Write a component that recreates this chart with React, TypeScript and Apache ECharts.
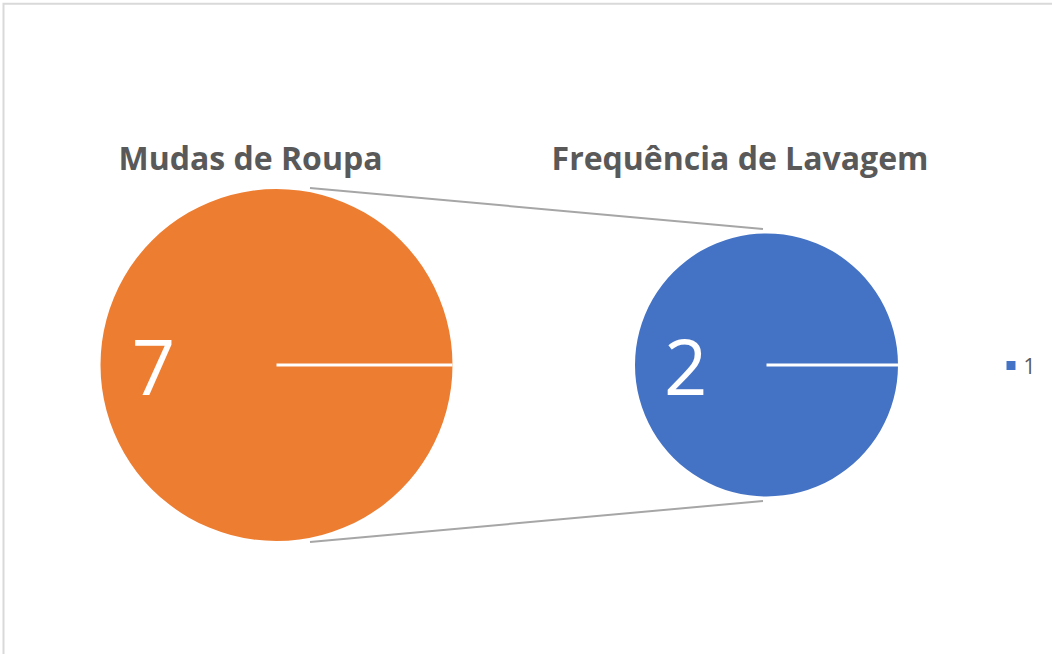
import React, { useEffect, useRef } from "react";
import * as echarts from "echarts";

// ---- data ----
const pieTitles = ["Mudas de Roupa", "Frequência de Lavagem"];
const leftPieValues = [7];
const rightPieValues = [2];
const categoryNames = ["1"];
const colors = ["#ED7D31", "#4472C4"];

// ---- layout constants ----
const W = 1052;
const H = 654;
const LEFT = { cx: 276.5, cy: 365, r: 176 };
const RIGHT = { cx: 766.5, cy: 365, r: 131.5 };
const FONT = "'Open Sans', 'Noto Sans', sans-serif";

export default function App() {
  const ref = useRef<HTMLDivElement>(null);

  useEffect(() => {
    if (!ref.current) return;
    const chart = echarts.init(ref.current, undefined, { renderer: "svg", width: W, height: H });

    const pieBase = (values: number[], geom: { cx: number; cy: number; r: number }, color: string, dx: number, name: string) => ({
      type: "pie",
      name,
      center: [geom.cx, geom.cy],
      radius: [0, geom.r],
      startAngle: 0,
      clockwise: true,
      silent: true,
      emphasis: { disabled: true },
      itemStyle: { color, borderWidth: 0 },
      label: {
        show: true,
        position: "inside",
        formatter: "{c}",
        color: "#FFFFFF",
        fontSize: 76,
        fontFamily: FONT,
        fontWeight: "normal",
      },
      labelLine: { show: false },
      labelLayout: { dx },
      data: values.map((v, i) => ({ name: categoryNames[i], value: v })),
    });

    const connectorStyle = { stroke: "#A6A6A6", lineWidth: 2 };
    const titleStyle = { color: "#595959", fontSize: 32, fontWeight: "bold", fontFamily: FONT };

    chart.setOption({
      animation: false,
      backgroundColor: "#FFFFFF",
      title: [
        {
          text: pieTitles[0],
          left: 250.5,
          top: 157,
          padding: 0,
          textAlign: "center",
          textVerticalAlign: "middle",
          textStyle: titleStyle,
        },
        {
          text: pieTitles[1],
          left: 740,
          top: 157,
          padding: 0,
          textAlign: "center",
          textVerticalAlign: "middle",
          textStyle: titleStyle,
        },
      ],
      legend: {
        left: 1006.5,
        top: 355,
        padding: 0,
        orient: "vertical",
        icon: "rect",
        itemWidth: 9,
        itemHeight: 9,
        selectedMode: false,
        textStyle: { color: "#595959", fontSize: 21, fontFamily: FONT, padding: [0, 0, 0, 3] },
        data: [{ name: categoryNames[0], itemStyle: { color: colors[1] } }],
      },
      graphic: [
        {
          type: "rect",
          silent: true,
          shape: { x: 3.5, y: 3.7, width: 1200, height: 800 },
          style: { fill: "none", stroke: "#D9D9D9", lineWidth: 2 },
        },
        {
          type: "line",
          silent: true,
          shape: { x1: LEFT.cx + 33.5, y1: LEFT.cy - LEFT.r - 1, x2: RIGHT.cx - 3.5, y2: RIGHT.cy - RIGHT.r - 4.5 },
          style: connectorStyle,
        },
        {
          type: "line",
          silent: true,
          shape: { x1: LEFT.cx + 33.5, y1: LEFT.cy + LEFT.r + 1, x2: RIGHT.cx - 3.5, y2: RIGHT.cy + RIGHT.r + 4.5 },
          style: connectorStyle,
        },
        {
          type: "line",
          silent: true,
          z: 100,
          shape: { x1: LEFT.cx, y1: LEFT.cy, x2: LEFT.cx + LEFT.r, y2: LEFT.cy },
          style: { stroke: "#FFFFFF", lineWidth: 3 },
        },
        {
          type: "line",
          silent: true,
          z: 100,
          shape: { x1: RIGHT.cx, y1: RIGHT.cy, x2: RIGHT.cx + RIGHT.r, y2: RIGHT.cy },
          style: { stroke: "#FFFFFF", lineWidth: 3 },
        },
      ],
      series: [
        pieBase(leftPieValues, LEFT, colors[0], -32, pieTitles[0]),
        pieBase(rightPieValues, RIGHT, colors[1], -12, pieTitles[1]),
      ],
    });

    return () => chart.dispose();
  }, []);

  return (
    <div
      ref={ref}
      style={{ position: "absolute", left: 0, top: 0, width: W, height: H, background: "#FFFFFF" }}
    />
  );
}
